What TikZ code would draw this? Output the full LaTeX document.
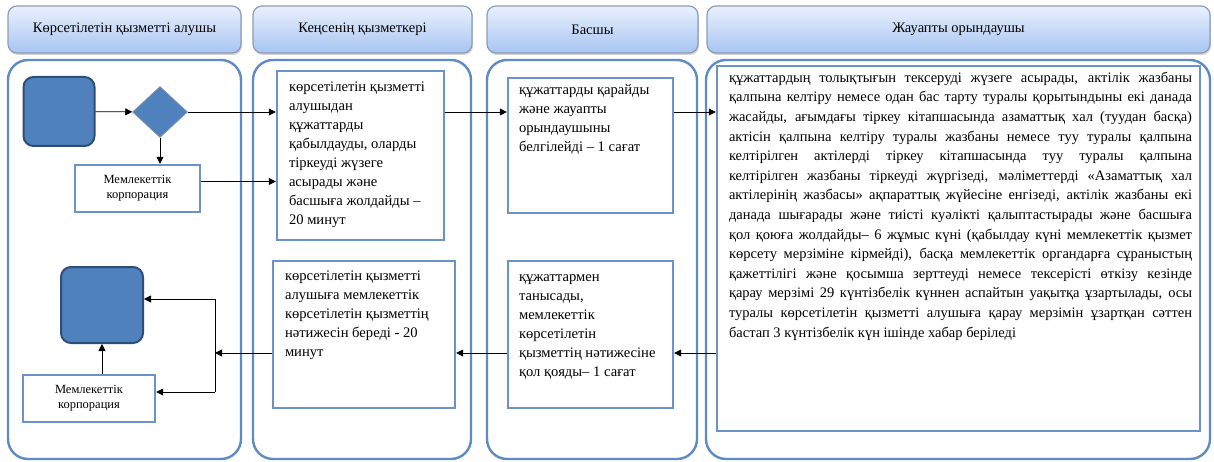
\documentclass[tikz,border=0pt]{standalone}
\usepackage{fontspec}
\setmainfont{Liberation Serif}
\usetikzlibrary{arrows.meta,shapes.geometric,shadows}

\definecolor{laneblue}{HTML}{5F8AC4}
\definecolor{boxblue}{HTML}{6B93C9}
\definecolor{startfill}{HTML}{4F81BD}
\definecolor{startline}{HTML}{2D4E78}
\definecolor{headtop}{HTML}{EAF1FD}
\definecolor{headbot}{HTML}{A7C4F2}
\definecolor{headline}{HTML}{8E9DB4}

\tikzset{
 head/.style={draw=headline, line width=1.2pt, rounded corners=9pt, top color=headtop, bottom color=headbot,
   drop shadow={shadow xshift=1pt, shadow yshift=-2pt, opacity=.35}, minimum height=47pt, inner sep=0pt,
   font=\fontsize{14.5}{16}\selectfont},
 lane/.style={draw=laneblue, line width=2.4pt, rounded corners=20pt},
 stepbox/.style={draw=boxblue, line width=2.4pt, fill=white, inner sep=0pt},
 boxtext/.style={anchor=north west, align=left, inner sep=0pt, font=\fontsize{14.6}{19}\selectfont},
 startbox/.style={draw=startline, fill=startfill, line width=2pt, rounded corners=10pt, inner sep=0pt},
 decision/.style={diamond, draw=startline!60, fill=startfill, line width=0.8pt, inner sep=0pt},
 corp/.style={draw=boxblue, line width=2.4pt, inner sep=0pt, align=center, font=\fontsize{12.5}{15}\selectfont},
 arr/.style={-{Triangle[length=7pt,width=7pt]}, line width=0.8pt},
}

\begin{document}
\begin{tikzpicture}[x=1pt, y=-1pt]
\useasboundingbox (0,0) rectangle (1214,462);

% headers
\node[head, minimum width=233pt] (head1) at (124.5,29.5) {Көрсетілетін қызметті алушы};
\node[head, minimum width=219pt] (head2) at (362.5,29.5) {Кеңсенің қызметкері};
\node[head, minimum width=211pt] (head3) at (592.5,29.5) {Басшы};
\node[head, minimum width=503pt] (head4) at (958.5,29.5) {Жауапты орындаушы};

% lanes
\draw[lane] (8,60) rectangle (241,459);
\draw[lane] (253,60) rectangle (471,459);
\draw[lane] (487,60) rectangle (697,459);
\draw[lane] (706,60) rectangle (1210,459);

% service recipient
\node[startbox, minimum width=71pt, minimum height=69pt] (start) at (59,111.5) {};
\node[decision, minimum width=55pt, minimum height=51pt] (choice) at (160,112) {};
\node[corp, minimum width=125pt, minimum height=47pt] (corp1) at (137.5,188.5) {Мемлекеттік\\корпорация};
\node[startbox, minimum width=82pt, minimum height=76pt] (finish) at (102,305) {};
\node[corp, minimum width=132pt, minimum height=47pt] (corp2) at (89,398.5) {Мемлекеттік\\корпорация};

% office employee
\node[stepbox, minimum width=167pt, minimum height=169pt] (recv) at (360.5,155.5) {};
\node[boxtext] (recvtxt) at ([xshift=13pt, yshift=-12pt]recv.north west)
 {көрсетілетін қызметті\\алушыдан\\құжаттарды\\қабылдауды, оларды\\тіркеуді жүзеге\\асырады және\\басшыға жолдайды –\\20 минут};
\node[stepbox, minimum width=182pt, minimum height=147pt] (issue) at (364,334.5) {};
\node[boxtext] (issuetxt) at ([xshift=13pt, yshift=-11pt]issue.north west)
 {көрсетілетін қызметті\\алушыға мемлекеттік\\көрсетілетін қызметтің\\нәтижесін береді - 20\\минут};

% head
\node[stepbox, minimum width=165pt, minimum height=135pt] (review) at (590.5,145.5) {};
\node[boxtext] (reviewtxt) at ([xshift=12pt, yshift=-8pt]review.north west)
 {құжаттарды қарайды\\және жауапты\\орындаушыны\\белгілейді – 1 сағат};
\node[stepbox, minimum width=165pt, minimum height=147pt] (sign) at (590.5,334.5) {};
\node[boxtext] (signtxt) at ([xshift=12pt, yshift=-15pt]sign.north west)
 {құжаттармен\\танысады,\\мемлекеттік\\көрсетілетін\\қызметтің нәтижесіне\\қол қояды– 1 сағат};

% executor
\node[stepbox, minimum width=483pt, minimum height=365pt] (exec) at (958.5,248.5) {};
\node[boxtext, align=justify, text width=463pt, font=\fontsize{14.5}{19.6}\selectfont] (exectxt)
 at ([xshift=13pt, yshift=-7pt]exec.north west)
 {құжаттардың толықтығын тексеруді жүзеге асырады, актілік жазбаны\linebreak
 қалпына келтіру немесе одан бас тарту туралы қорытындыны екі данада\linebreak
 жасайды, ағымдағы тіркеу кітапшасында азаматтық хал (туудан басқа)\linebreak
 актісін қалпына келтіру туралы жазбаны немесе туу туралы қалпына\linebreak
 келтірілген актілерді тіркеу кітапшасында туу туралы қалпына\linebreak
 келтірілген жазбаны тіркеуді жүргізеді, мәліметтерді «Азаматтық хал\linebreak
 актілерінің жазбасы» ақпараттық жүйесіне енгізеді, актілік жазбаны екі\linebreak
 данада шығарады және тиісті куәлікті қалыптастырады және басшыға\linebreak
 қол қоюға жолдайды– 6 жұмыс күні (қабылдау күні мемлекеттік қызмет\linebreak
 көрсету мерзіміне кірмейді), басқа мемлекеттік органдарға сұраныстың\linebreak
 қажеттілігі және қосымша зерттеуді немесе тексерісті өткізу кезінде\linebreak
 қарау мерзімі 29 күнтізбелік күннен аспайтын уақытқа ұзартылады, осы\linebreak
 туралы көрсетілетін қызметті алушыға қарау мерзімін ұзартқан сәттен\linebreak
 бастап 3 күнтізбелік күн ішінде хабар беріледі};

% connectors
\coordinate (back) at (0,353);
\coordinate (splittop) at (215,299);
\coordinate (split) at (215,353);
\coordinate (splitbot) at (215,392);

\draw[arr] (start) -- (choice);
\draw[arr] (choice.south) -- (choice.south |- corp1.north);
\draw[arr] (choice.east) -- (choice.east -| recv.west);
\draw[arr] ([yshift=7pt]corp1.east) -- ([yshift=7pt]corp1.east -| recv.west);
\draw[arr] (choice.east -| recv.east) -- (choice.east -| review.west);
\draw[arr] (choice.east -| review.east) -- (choice.east -| exec.west);
\draw[arr] (back -| exec.west) -- (back -| sign.east);
\draw[arr] (back -| sign.west) -- (back -| issue.east);
\draw[arr] (back -| issue.west) -- (split);
\draw (splittop) -- (splitbot);
\draw[arr] (splittop) -- (splittop -| finish.east);
\draw[arr] (splitbot) -- (splitbot -| corp2.east);
\draw[arr] (finish.south |- corp2.north) -- (finish.south);

\end{tikzpicture}
\end{document}
